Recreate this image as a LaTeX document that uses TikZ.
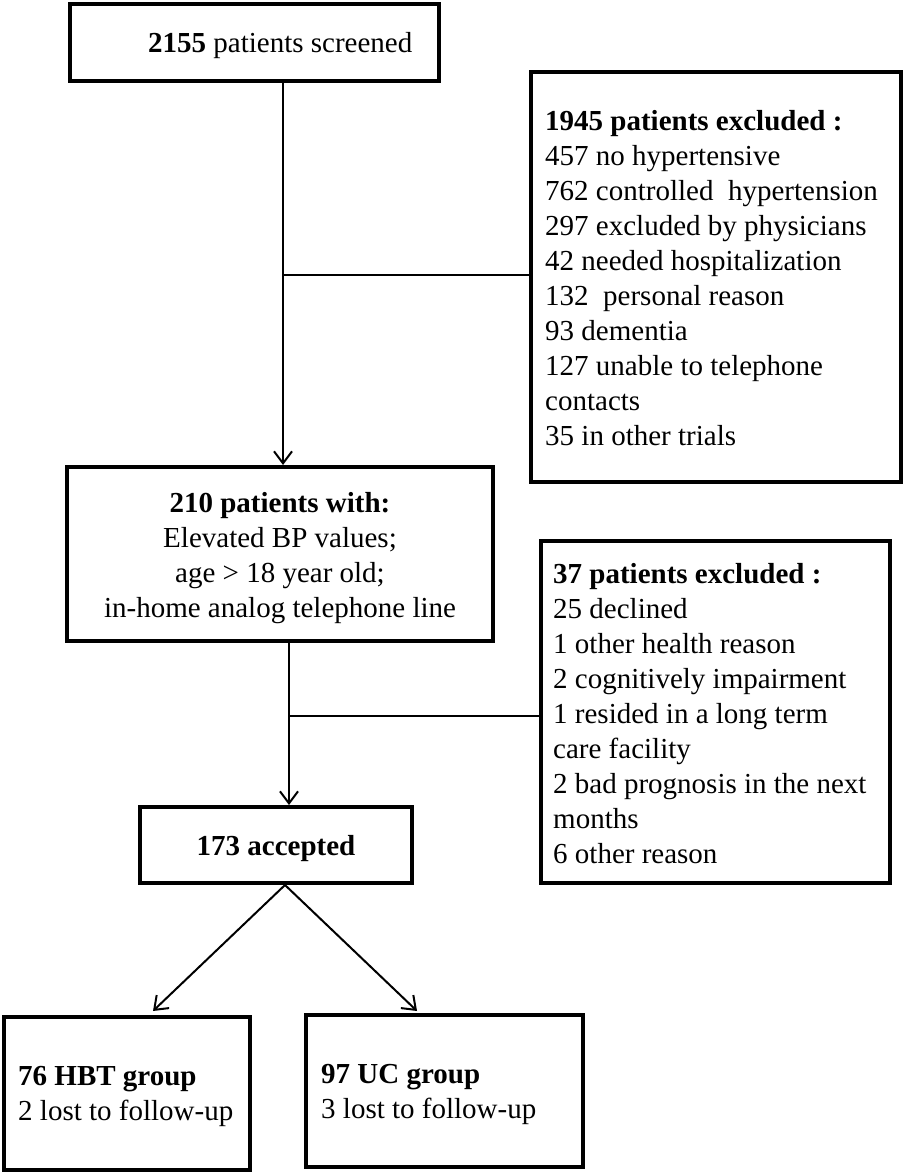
\documentclass[tikz,border=0pt]{standalone}
\usepackage{fontspec}
\setmainfont{Liberation Serif}
\usetikzlibrary{arrows.meta,calc}
\begin{document}
\begin{tikzpicture}[x=1pt,y=-1pt,
  box/.style={draw=black,line width=4pt,rectangle,inner sep=0pt,fill=white},
  txt/.style={inner sep=0pt,font=\fontsize{29}{35}\selectfont},
  conn/.style={draw=black,line width=2pt},
  arr/.style={conn,-{Straight Barb[length=12pt,width=18pt,line width=2pt]}}]
\useasboundingbox[fill=white] (0,0) rectangle (905,1174);
% boxes (border centre lines)
\node[box,minimum width=369pt,minimum height=77pt] (b1) at (254.5,42.5) {};
\node[box,minimum width=370pt,minimum height=410pt] (b2) at (716,277) {};
\node[box,minimum width=426pt,minimum height=174pt] (b3) at (280,554) {};
\node[box,minimum width=349pt,minimum height=342pt] (b4) at (715.5,712) {};
\node[box,minimum width=272pt,minimum height=76pt] (b5) at (276,845) {};
\node[box,minimum width=246pt,minimum height=153pt] (b6) at (127,1093.5) {};
\node[box,minimum width=277pt,minimum height=152pt] (b7) at (444.5,1091) {};
% texts
\node[txt,anchor=base west] (t1) at (148,53) {\textbf{2155} patients screened};
\node[txt,anchor=base west] (t2) at (545,131) {\begin{tabular}[t]{@{}l@{}}
\textbf{1945 patients excluded :}\\
457 no hypertensive\\
762 controlled~ hypertension\\
297 excluded by physicians\\
42 needed hospitalization\\
132~ personal reason\\
93 dementia\\
127 unable to telephone\\
contacts\\
35 in other trials\end{tabular}};
\node[txt,anchor=base] (t3) at (280,512) {\begin{tabular}[t]{@{}c@{}}
\textbf{210 patients with:}\\
Elevated BP values;\\
age > 18 year old;\\
in-home analog telephone line\end{tabular}};
\node[txt,anchor=base west] (t4) at (553,583) {\begin{tabular}[t]{@{}l@{}}
\textbf{37 patients excluded :}\\
25 declined\\
1 other health reason\\
2 cognitively impairment\\
1 resided in a long term\\
care facility\\
2 bad prognosis in the next\\
months\\
6 other reason\end{tabular}};
\node[txt,anchor=base] (t5) at (276,855) {\textbf{173 accepted}};
\node[txt,anchor=base west] (t6) at (18,1085) {\begin{tabular}[t]{@{}l@{}}
\textbf{76 HBT group}\\
2 lost to follow-up\end{tabular}};
\node[txt,anchor=base west] (t7) at (321,1083) {\begin{tabular}[t]{@{}l@{}}
\textbf{97 UC group}\\
3 lost to follow-up\end{tabular}};
% junctions
\coordinate (j1) at (283,275);
\coordinate (j2) at (289,716);
\coordinate (s5) at (285,885);
\coordinate (e6) at (153,1011);
\coordinate (e7) at (417,1011);
% connectors
\draw[arr] (b1.south -| j1) -- (b3.north -| j1);
\draw[conn] (j1) -- (j1 -| b2.west);
\draw[arr] (b3.south -| j2) -- (b5.north -| j2);
\draw[conn] (j2) -- (j2 -| b4.west);
\draw[arr] (s5) -- (e6);
\draw[arr] (s5) -- (e7);
\end{tikzpicture}
\end{document}
